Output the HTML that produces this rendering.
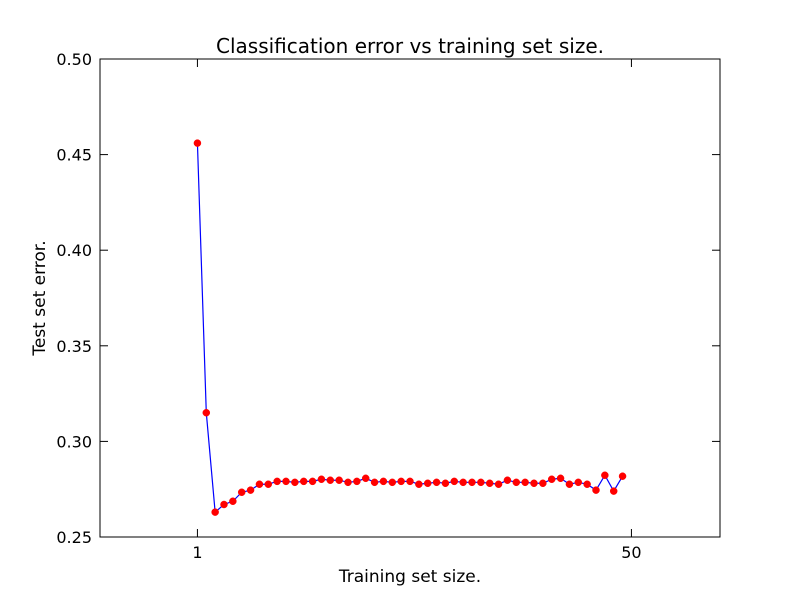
<!DOCTYPE html>
<html><head><meta charset="utf-8"><style>
body{margin:0;background:#fff;}
svg{display:block;font-family:"DejaVu Sans","Liberation Sans",sans-serif;}
</style></head><body>
<svg id="chart" width="800" height="597">
<rect width="800" height="597" fill="#fff"/>
<text x="410" y="53" font-size="20" text-anchor="middle">Classification error vs training set size.</text>
<text x="410" y="582" font-size="17" text-anchor="middle">Training set size.</text>
<text transform="translate(45,298) rotate(-90)" font-size="17" text-anchor="middle">Test set error.</text>
<g id="ticks"></g>
<g id="series"></g>
<rect x="100" y="59" width="620" height="478" fill="none" stroke="#000" stroke-width="1"/>
</svg>
<script>
const sizes=[];for(let i=1;i<=49;i++)sizes.push(i);
const errors=[0.456,0.315,0.263,0.267,0.2687,0.2734,0.2745,0.2776,0.2776,0.2791,0.2791,0.2786,0.2791,0.2791,0.2802,0.2797,0.2797,0.2786,0.2791,0.2807,0.2786,0.2791,0.2786,0.2791,0.2791,0.2776,0.2781,0.2786,0.2781,0.2791,0.2786,0.2786,0.2786,0.2781,0.2776,0.2797,0.2786,0.2786,0.2781,0.2781,0.2802,0.2807,0.2776,0.2786,0.2776,0.2745,0.2823,0.2740,0.2818];
const xTicks=[1,50];
const yTicks=[0.25,0.30,0.35,0.40,0.45,0.50];
const yLabels=["0.25","0.30","0.35","0.40","0.45","0.50"];
const X0=100,X1=720,Y0=537,Y1=59,xmin=-10,xmax=60,ymin=0.25,ymax=0.5;
const xs=v=>X0+(v-xmin)/(xmax-xmin)*(X1-X0);
const ys=v=>Y0-(v-ymin)/(ymax-ymin)*(Y0-Y1);
const NS="http://www.w3.org/2000/svg";
const tg=document.getElementById('ticks'),sg=document.getElementById('series');
function mk(tag,a,p){const e=document.createElementNS(NS,tag);for(const k in a)e.setAttribute(k,a[k]);p.appendChild(e);return e;}
xTicks.forEach(t=>{const x=xs(t);
 let l=mk('line',{x1:x,x2:x,y1:Y0,y2:Y0-8,stroke:'#000'},tg);
 
 
 l=mk('line',{x1:x,x2:x,y1:Y1,y2:Y1+8,stroke:'#000'},tg);
 
 
 const tx=mk('text',{x:x,y:Y0+21,'font-size':16,'text-anchor':'middle'},tg);tx.textContent=t;
 
 
});
yTicks.forEach((t,i)=>{const y=ys(t);
 let l=mk('line',{x1:X0,x2:X0+8,y1:y,y2:y,stroke:'#000'},tg);
 
 
 l=mk('line',{x1:X1,x2:X1-8,y1:y,y2:y,stroke:'#000'},tg);
 
 
 const tx=mk('text',{x:X0-8,y:y+6,'font-size':16,'text-anchor':'end'},tg);tx.textContent=yLabels[i];
 
 
});
const pl=mk('polyline',{points:sizes.map((s,i)=>xs(s)+','+ys(errors[i])).join(' '),fill:'none',stroke:'#0000ff','stroke-width':1.2},sg);


sizes.forEach((s,i)=>{const c=mk('circle',{cx:xs(s),cy:ys(errors[i]),r:3.5,fill:'#ff0000',stroke:'#ff0000','stroke-width':0.5},sg);
 
 
});
</script>
</body></html>
